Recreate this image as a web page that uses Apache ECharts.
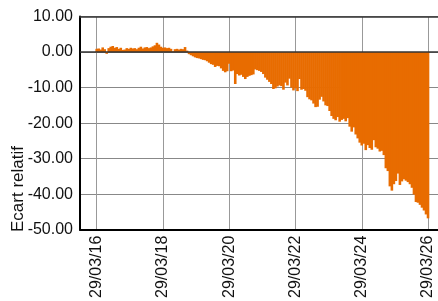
<!DOCTYPE html>
<html><head><meta charset="utf-8">
<script src="https://cdn.jsdelivr.net/npm/echarts@6/dist/echarts.min.js"></script>
<style>html,body{margin:0;padding:0;background:#fff}#c{width:438px;height:301px}</style>
</head><body><div id="c"></div>
<script>
// Series: relative gap, evenly sampled from 29/03/2016 to 29/03/2026
const startDate = Date.UTC(2016, 2, 29);
const endDate = Date.UTC(2026, 2, 29);
const ecartValues = [
  0.9, 1.0, 0.7, 1.3, 0.8, -0.5, 1.1, 1.5, 1.7, 1.2,
  1.4, 0.9, 1.2, 0.6, 0.7, 1.1, 0.9, 1.2, 1.0, 1.1,
  0.8, 1.2, 1.5, 1.0, 1.3, 1.4, 1.1, 1.3, 1.6, 1.9,
  2.6, 2.1, 1.5, 1.2, 1.3, 1.1, 1.2, 0.9, 0.2, 0.8,
  0.9, 0.7, 0.9, 0.8, 1.4, 0.4, -0.6, -0.9, -1.2, -1.5,
  -1.7, -1.8, -2.0, -2.2, -2.3, -2.6, -3.0, -3.4, -3.6, -4.2,
  -3.9, -4.0, -4.6, -5.3, -5.7, -5.4, -3.3, -5.4, -5.2, -9.0,
  -6.2, -6.6, -6.4, -7.0, -7.6, -7.0, -6.7, -6.5, -6.3, -4.9,
  -5.1, -5.3, -5.6, -6.2, -7.2, -7.8, -8.4, -9.0, -10.4, -10.2,
  -9.7, -9.4, -9.6, -10.6, -8.6, -9.4, -7.5, -10.0, -10.8, -10.2,
  -11.0, -7.6, -10.6, -10.4, -10.9, -12.7, -13.3, -13.6, -14.5, -15.5,
  -15.4, -13.4, -12.6, -13.9, -15.0, -15.2, -16.6, -18.0, -18.8, -19.2,
  -18.3, -19.6, -19.1, -18.8, -19.5, -18.6, -21.0, -22.4, -21.2, -23.2,
  -24.3, -25.5, -26.3, -25.8, -27.6, -26.2, -27.0, -27.5, -24.8, -26.8,
  -27.2, -28.0, -27.8, -29.0, -32.7, -33.5, -37.8, -39.0, -37.2, -36.3,
  -34.2, -37.4, -36.4, -35.8, -36.2, -36.6, -37.2, -38.2, -40.1, -42.2,
  -42.4, -43.0, -43.8, -44.6, -45.7, -46.8
];
const tickDates = [
  Date.UTC(2016, 2, 29), Date.UTC(2018, 2, 29), Date.UTC(2020, 2, 29),
  Date.UTC(2022, 2, 29), Date.UTC(2024, 2, 29), Date.UTC(2026, 2, 29)
];
const axisMinDate = Date.UTC(2015, 8, 27);
const axisMaxDate = Date.UTC(2026, 6, 17);
const yMin = -50, yMax = 10, yStep = 10;
const yName = 'Ecart relatif';

const n = ecartValues.length;
const seriesData = ecartValues.map((v, i) => [startDate + (endDate - startDate) * i / (n - 1), v]);

function pad(x) { return (x < 10 ? '0' : '') + x; }
function fmtDate(v) {
  const d = new Date(v);
  return pad(d.getUTCDate()) + '/' + pad(d.getUTCMonth() + 1) + '/' + pad(d.getUTCFullYear() % 100);
}

const font = '"Liberation Sans", Arial, sans-serif';
const chart = echarts.init(document.getElementById('c'), null, { renderer: 'canvas' });
chart.setOption({
  animation: false,
  grid: { left: 80, top: 16.5, bottom: 70, right: 0, show: false },
  xAxis: [{
    type: 'value', min: axisMinDate, max: axisMaxDate, scale: true,
    axisLine: { show: true, onZero: false, lineStyle: { color: '#000', width: 2 } },
    axisTick: { show: false, customValues: tickDates },
    axisLabel: { customValues: tickDates, rotate: 90, margin: 6, fontSize: 16, color: '#111', fontFamily: font, formatter: fmtDate, showMinLabel: true, showMaxLabel: true, hideOverlap: false },
    splitLine: { show: true, lineStyle: { color: '#999', width: 1 } }
  }, {
    type: 'value', position: 'top', min: axisMinDate, max: axisMaxDate, scale: true,
    axisLine: { show: true, onZero: false, lineStyle: { color: '#333', width: 1.5 } },
    axisTick: { show: false }, axisLabel: { show: false }, splitLine: { show: false }
  }],
  yAxis: {
    type: 'value', min: yMin, max: yMax, interval: yStep,
    axisLine: { show: true, lineStyle: { color: '#000', width: 2 } },
    axisTick: { show: false },
    axisLabel: { margin: 7, fontSize: 16, color: '#111', fontFamily: font, formatter: v => v.toFixed(2) },
    splitLine: { show: true, lineStyle: { color: '#888', width: 1 } }
  },
  graphic: [{
    type: 'text', x: 18.5, y: 232, rotation: Math.PI / 2,
    style: { text: yName, fontSize: 17, fontFamily: font, fill: '#111', align: 'left', verticalAlign: 'middle' }
  }],
  series: [{
    type: 'bar', data: seriesData, barWidth: 2.6, large: false,
    itemStyle: { color: '#E86C00' },
    markLine: { silent: true, symbol: 'none', label: { show: false }, lineStyle: { color: '#333', width: 1.5, type: 'solid' }, data: [{ yAxis: 0 }] }
  }]
});
</script></body></html>
